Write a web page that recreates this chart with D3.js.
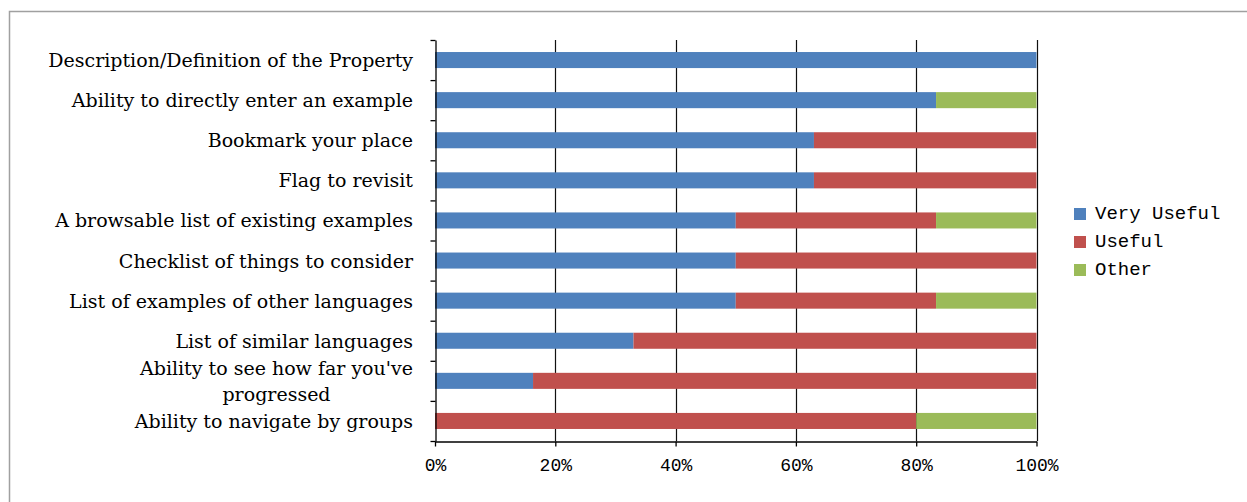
<!DOCTYPE html>
<html><head><meta charset="utf-8">
<script src="https://cdn.jsdelivr.net/npm/d3@7"></script>
<style>body{margin:0;background:#fff;overflow:hidden}</style></head>
<body>
<svg id="c" width="1247" height="502"></svg>
<script>
const categories = [
  "Description/Definition of the Property",
  "Ability to directly enter an example",
  "Bookmark your place",
  "Flag to revisit",
  "A browsable list of existing examples",
  "Checklist of things to consider",
  "List of examples of other languages",
  "List of similar languages",
  "Ability to see how far you've progressed",
  "Ability to navigate by groups"
];
const veryUseful = [100, 83.3, 63, 63, 50, 50, 50, 33, 16.3, 0];
const useful     = [0, 0, 37, 37, 33.3, 50, 33.3, 67, 83.7, 80];
const other      = [0, 16.7, 0, 0, 16.7, 0, 16.7, 0, 0, 20];
const seriesNames = ["Very Useful", "Useful", "Other"];
const xTicks = [0, 20, 40, 60, 80, 100];
const colors = ["#4F81BD", "#C0504D", "#9BBB59"];

const svg = d3.select("#c");
const labelFont = "'DejaVu Serif', serif";
const monoFont = "'Liberation Mono', 'DejaVu Sans Mono', monospace";

// outer border
svg.append("rect").attr("x", 9.5).attr("y", 11.5).attr("width", 1400).attr("height", 700)
  .attr("fill", "none").attr("stroke", "#a0a0a0").attr("stroke-width", 1.5);

const plotTop = 40, plotBottom = 441;
const x = d3.scaleLinear([0, 100], [435, 1036.5]);
const y = d3.scaleBand(categories, [plotTop, plotBottom]).paddingInner(0.6).paddingOuter(0.3);

const rows = categories.map((c, i) => ({cat: c, "Very Useful": veryUseful[i], "Useful": useful[i], "Other": other[i]}));
const stack = d3.stack().keys(seriesNames)(rows);

// gridlines
svg.append("g").selectAll("line").data(xTicks.slice(1)).join("line")
  .attr("x1", d => Math.round(x(d)) + 0.5).attr("x2", d => Math.round(x(d)) + 0.5)
  .attr("y1", plotTop).attr("y2", plotBottom)
  .attr("stroke", "#111").attr("stroke-width", 1.2);

// bars
svg.append("g").selectAll("g").data(stack).join("g")
  .attr("fill", (d, i) => colors[i])
  .selectAll("rect").data(d => d).join("rect")
  .attr("x", d => x(d[0]))
  .attr("width", d => Math.max(0, x(d[1]) - x(d[0])))
  .attr("y", d => y(d.data.cat))
  .attr("height", y.bandwidth());

// left axis (category boundaries)
const yb = d3.scaleLinear([0, categories.length], [plotTop, plotBottom]);
const la = svg.append("g").attr("transform", "translate(435.5,0)")
  .call(d3.axisLeft(yb).tickValues(d3.range(categories.length + 1)).tickFormat("").tickSize(5).tickSizeOuter(0));
la.selectAll("line,path").attr("stroke", "#000").attr("stroke-width", 1.3);

// bottom axis
const ba = svg.append("g").attr("transform", `translate(0,${plotBottom + 0.5})`)
  .call(d3.axisBottom(x).tickValues(xTicks).tickFormat(d => d + "%").tickSize(5).tickSizeOuter(0).tickPadding(12));
ba.selectAll("line,path").attr("stroke", "#000").attr("stroke-width", 1.3);
ba.selectAll("text").attr("font-family", monoFont).attr("font-size", 18).attr("fill", "#000");

// category labels with wrapping
const maxW = 375, labelRight = 413, lineH = 26;
const lg = svg.append("g").attr("font-family", labelFont).attr("font-size", 19).attr("fill", "#000");
const measurer = lg.append("text").attr("visibility", "hidden");
function width(s) { measurer.text(s); return measurer.node().getComputedTextLength(); }
categories.forEach(c => {
  const words = c.split(" ");
  const lines = [];
  let cur = "";
  words.forEach(w => {
    const t = cur ? cur + " " + w : w;
    if (cur && width(t) > maxW) { lines.push(cur); cur = w; } else cur = t;
  });
  lines.push(cur);
  const cy = y(c) + y.bandwidth() / 2;
  if (lines.length === 1) {
    lg.append("text").attr("x", labelRight).attr("y", cy).attr("text-anchor", "end")
      .attr("dominant-baseline", "central").text(c);
  } else {
    const bw = d3.max(lines, width);
    const cx = labelRight - bw / 2;
    lines.forEach((l, k) => {
      lg.append("text").attr("x", cx).attr("y", cy + (k - (lines.length - 1) / 2) * lineH)
        .attr("text-anchor", "middle").attr("dominant-baseline", "central").text(l);
    });
  }
});
measurer.remove();

// legend
const leg = svg.append("g").attr("font-family", monoFont).attr("font-size", 19).attr("fill", "#000");
seriesNames.forEach((s, i) => {
  const cy = 214 + i * 28;
  leg.append("rect").attr("x", 1074).attr("y", cy - 6).attr("width", 12).attr("height", 12).attr("fill", colors[i]);
  leg.append("text").attr("x", 1095).attr("y", cy).attr("dominant-baseline", "central").text(s);
});
</script>
</body></html>
